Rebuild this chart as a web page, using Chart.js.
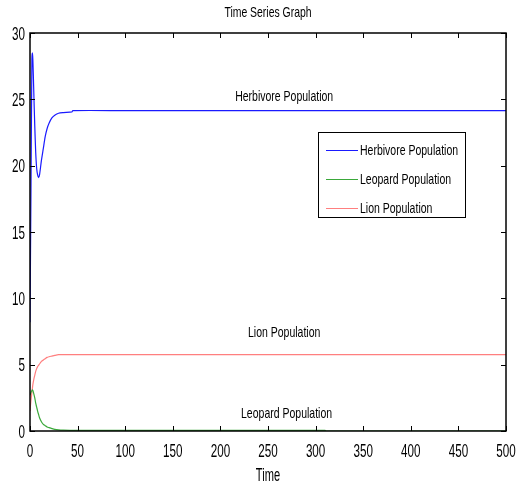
<!DOCTYPE html>
<html>
<head>
<meta charset="utf-8">
<script src="https://cdn.jsdelivr.net/npm/chart.js@4.4.0/dist/chart.umd.min.js"></script>
<style>
  html, body { margin: 0; padding: 0; background: #fff; }
  #wrap { width: 522px; height: 488px; }
</style>
</head>
<body>
<div id="wrap"><canvas id="c" width="522" height="488"></canvas></div>
<script>
// ==== DATA ====
var time      = [0, 1, 2, 2.5, 3, 4, 5, 6, 7, 8, 9, 10, 12, 14, 16, 18, 20, 23, 26, 30, 35, 44, 45, 100, 150, 200, 250, 300, 310, 311, 400, 500];
var herbivore = [8.2, 18, 28, 28.5, 28, 25.5, 23, 21, 19.8, 19.3, 19.1, 19.3, 20.4, 21.3, 22.2, 22.8, 23.2, 23.6, 23.8, 23.95, 24, 24.05, 24.15, 24.15, 24.15, 24.15, 24.15, 24.15, 24.15, 24.15, 24.15, 24.15];
var leopard   = [2.7, 2.9, 3.05, 3.1, 3.05, 2.8, 2.5, 2.1, 1.8, 1.5, 1.25, 1.0, 0.7, 0.5, 0.4, 0.3, 0.25, 0.18, 0.12, 0.08, 0.06, 0.05, 0.05, 0.05, 0.05, 0.05, 0.05, 0.05, 0.05, 0, 0, 0];
var lion      = [1.5, 2.3, 2.9, 3.2, 3.5, 3.9, 4.2, 4.5, 4.7, 4.85, 4.95, 5.05, 5.25, 5.35, 5.45, 5.55, 5.6, 5.65, 5.7, 5.75, 5.75, 5.75, 5.75, 5.75, 5.75, 5.75, 5.75, 5.75, 5.75, 5.75, 5.75, 5.75];
var seriesNames = ['Herbivore Population', 'Leopard Population', 'Lion Population'];
var xTicks = [0, 50, 100, 150, 200, 250, 300, 350, 400, 450, 500];
var yTicks = [0, 5, 10, 15, 20, 25, 30];
var titleText = 'Time Series Graph';
var xTitle = 'Time';
// in-plot text labels: [text, time, value] (baseline)
var notes = [['Herbivore Population', 267, 24.9], ['Lion Population', 267, 7.1], ['Leopard Population', 269.5, 0.98]];

var FONT = "'Liberation Sans', Arial, sans-serif";

function pts(ys) { return time.map(function (t, i) { return { x: t, y: ys[i] }; }); }

// squeezed text, like the narrow font in the original
function txt(ctx, s, x, y, size, sq, align) {
  ctx.save();
  ctx.translate(x, y); ctx.scale(sq, 1);
  ctx.font = size + 'px ' + FONT;
  ctx.textAlign = align; ctx.textBaseline = 'alphabetic';
  ctx.fillStyle = '#000';
  ctx.fillText(s, 0, 0);
  ctx.restore();
}

// ==== BOX, INWARD TICKS, LABELS, LEGEND (matlab style) ====
var boxPlugin = {
  id: 'box',
  afterDatasetsDraw: function (chart) {
    var ctx = chart.ctx, a = chart.chartArea, sx = chart.scales.x, sy = chart.scales.y;
    ctx.save();
    ctx.strokeStyle = '#000'; ctx.lineWidth = 1;
    ctx.beginPath();
    xTicks.forEach(function (v) {
      var px = Math.round(sx.getPixelForValue(v)) + 0.5;
      ctx.moveTo(px, a.bottom); ctx.lineTo(px, a.bottom - 5);
      ctx.moveTo(px, a.top); ctx.lineTo(px, a.top + 5);
    });
    yTicks.forEach(function (v) {
      var py = Math.round(sy.getPixelForValue(v)) + 0.5;
      ctx.moveTo(a.left, py); ctx.lineTo(a.left + 5, py);
      ctx.moveTo(a.right, py); ctx.lineTo(a.right - 5, py);
    });
    ctx.stroke();
    ctx.lineWidth = 1.5;
    ctx.strokeRect(a.left, a.top, a.right - a.left, a.bottom - a.top);

    // tick labels + titles
    xTicks.forEach(function (v) { txt(ctx, String(v), sx.getPixelForValue(v), a.bottom + 26, 18.5, 0.63, 'center'); });
    yTicks.forEach(function (v) { txt(ctx, String(v), a.left - 5, sy.getPixelForValue(v) + 6.5, 18.5, 0.63, 'right'); });
    txt(ctx, xTitle, (a.left + a.right) / 2, a.bottom + 50, 18.5, 0.6, 'center');
    txt(ctx, titleText, (a.left + a.right) / 2, a.top - 16, 14.5, 0.72, 'center');

    // text labels inside plot
    notes.forEach(function (n) {
      txt(ctx, n[0], sx.getPixelForValue(n[1]), sy.getPixelForValue(n[2]), 15, 0.7, 'center');
    });

    // legend box
    var bx = a.right - 188, by = a.top + 99, bw = 147, bh = 85;
    ctx.fillStyle = '#fff';
    ctx.fillRect(bx, by, bw, bh);
    ctx.lineWidth = 1; ctx.strokeStyle = '#000';
    ctx.strokeRect(bx + 0.5, by + 0.5, bw, bh);
    chart.data.datasets.forEach(function (ds, i) {
      var ly = by + 18 + i * 29;
      ctx.strokeStyle = ds.borderColor; ctx.lineWidth = 1;
      ctx.beginPath(); ctx.moveTo(bx + 8, ly + 0.5); ctx.lineTo(bx + 40, ly + 0.5); ctx.stroke();
      txt(ctx, ds.label, bx + 42, ly + 5, 15, 0.7, 'left');
    });
    ctx.restore();
  }
};

new Chart(document.getElementById('c').getContext('2d'), {
  type: 'line',
  data: {
    datasets: [
      { label: seriesNames[0], data: pts(herbivore), borderColor: '#1a1aff', borderWidth: 1.2, pointRadius: 0, tension: 0.25, fill: false },
      { label: seriesNames[1], data: pts(leopard), borderColor: '#3aa83a', borderWidth: 1.2, pointRadius: 0, tension: 0.25, fill: false },
      { label: seriesNames[2], data: pts(lion), borderColor: '#ff7f7f', borderWidth: 1.2, pointRadius: 0, tension: 0.25, fill: false }
    ]
  },
  options: {
    responsive: false, animation: false,
    layout: { padding: { top: 33, right: 16, left: 0, bottom: 0 } },
    plugins: {
      legend: { display: false },
      tooltip: { enabled: false },
      title: { display: false }
    },
    scales: {
      x: {
        type: 'linear', min: 0, max: 500,
        afterBuildTicks: function (s) { s.ticks = xTicks.map(function (v) { return { value: v }; }); },
        afterFit: function (s) { s.height = 57; s.paddingLeft = 0; s.paddingRight = 0; },
        grid: { display: false, drawTicks: false },
        border: { display: false },
        ticks: { display: false }
      },
      y: {
        min: 0, max: 30,
        afterBuildTicks: function (s) { s.ticks = yTicks.map(function (v) { return { value: v }; }); },
        afterFit: function (s) { s.width = 30; s.paddingTop = 0; s.paddingBottom = 0; },
        grid: { display: false, drawTicks: false },
        border: { display: false },
        ticks: { display: false }
      }
    }
  },
  plugins: [boxPlugin]
});
</script>
</body>
</html>
